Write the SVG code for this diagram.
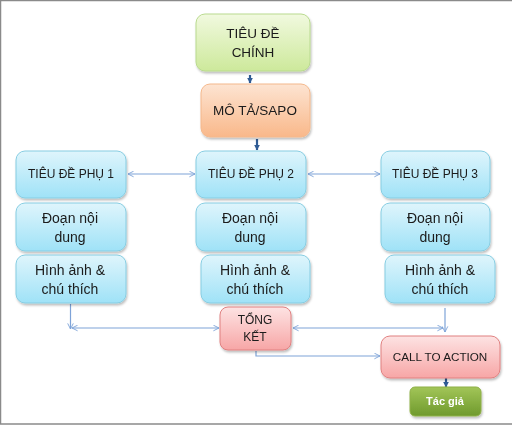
<svg xmlns="http://www.w3.org/2000/svg" width="512" height="426" viewBox="0 0 512 426">
<defs>
<linearGradient id="gBlue" x1="0" y1="0" x2="0" y2="1"><stop offset="0" stop-color="#dff5fc"/><stop offset="1" stop-color="#9fe2f7"/></linearGradient>
<linearGradient id="gGreen" x1="0" y1="0" x2="0" y2="1"><stop offset="0" stop-color="#f1f9df"/><stop offset="1" stop-color="#cde99b"/></linearGradient>
<linearGradient id="gOrange" x1="0" y1="0" x2="0" y2="1"><stop offset="0" stop-color="#fde4d2"/><stop offset="1" stop-color="#f9b88a"/></linearGradient>
<linearGradient id="gRed" x1="0" y1="0" x2="0" y2="1"><stop offset="0" stop-color="#fde3e3"/><stop offset="1" stop-color="#f7a6a6"/></linearGradient>
<linearGradient id="gDark" x1="0" y1="0" x2="0" y2="1"><stop offset="0" stop-color="#a2c558"/><stop offset="1" stop-color="#6f9a2d"/></linearGradient>
<filter id="sh" x="-10%" y="-10%" width="130%" height="140%"><feDropShadow dx="1" dy="2" stdDeviation="1.2" flood-color="#000" flood-opacity="0.25"/></filter>
<marker id="open" viewBox="0 0 10 10" refX="9" refY="5" markerWidth="7" markerHeight="7" orient="auto-start-reverse" markerUnits="userSpaceOnUse"><path d="M1,1 L9,5 L1,9" fill="none" stroke="#7ea3d8" stroke-width="1.3"/></marker>
<marker id="solid" viewBox="0 0 10 10" refX="9" refY="5" markerWidth="6" markerHeight="6" orient="auto" markerUnits="userSpaceOnUse"><path d="M0,0 L10,5 L0,10 z" fill="#2f5b94"/></marker>
</defs>
<style>
.t{font-family:"Liberation Sans",Arial,sans-serif;fill:#1a1a1a;text-anchor:middle}
.s12{font-size:12px}
.s13{font-size:13.5px}
.s14{font-size:14px}
.blue{fill:url(#gBlue);stroke:#86cde2;stroke-width:1}
.box{filter:url(#sh)}
.lc{fill:none;stroke:#7ea3d8;stroke-width:1.2}
.dc{fill:none;stroke:#2f5b94;stroke-width:2.2}
</style>
<rect x="0" y="0" width="512" height="426" fill="#ffffff"/>
<path d="M0.5,424 V0.5 H512" fill="none" stroke="#8a8a8a" stroke-width="1.5"/>
<line x1="0" y1="424" x2="512" y2="424" stroke="#8a8a8a" stroke-width="1.5"/>

<g id="connectors">
<line class="dc" x1="250" y1="75" x2="250" y2="83" marker-end="url(#solid)"/>
<line class="dc" x1="257" y1="139" x2="257" y2="150" marker-end="url(#solid)"/>
<line class="dc" x1="446" y1="378" x2="446" y2="387" marker-end="url(#solid)"/>
<line class="lc" x1="128" y1="174" x2="195" y2="174" marker-start="url(#open)" marker-end="url(#open)"/>
<line class="lc" x1="308" y1="174" x2="380" y2="174" marker-start="url(#open)" marker-end="url(#open)"/>
<line class="lc" x1="70.5" y1="304" x2="70.5" y2="329" marker-end="url(#open)"/>
<line class="lc" x1="72" y1="328" x2="219" y2="328" marker-start="url(#open)" marker-end="url(#open)"/>
<line class="lc" x1="445" y1="308" x2="445" y2="332" marker-end="url(#open)"/>
<line class="lc" x1="293" y1="328" x2="443" y2="328" marker-start="url(#open)" marker-end="url(#open)"/>
<path class="lc" d="M256,351 V356 H380" marker-end="url(#open)"/>
</g>

<g id="main-title" class="box"><rect x="196" y="14" width="114" height="57" rx="9" fill="url(#gGreen)" stroke="#b9da8e"/>
<text class="t s13" x="253" y="38">TIÊU ĐỀ</text><text class="t s13" x="253" y="57">CHÍNH</text></g>

<g id="sapo" class="box"><rect x="201" y="84" width="109" height="53" rx="9" fill="url(#gOrange)" stroke="#f4b88c"/>
<text class="t s13" x="255" y="115">MÔ TẢ/SAPO</text></g>

<g id="sub1" class="box"><rect class="blue" x="16" y="151" width="110" height="47" rx="9"/><text class="t s12" x="71" y="178">TIÊU ĐỀ PHỤ 1</text></g>
<g id="sub2" class="box"><rect class="blue" x="196" y="151" width="110" height="47" rx="9"/><text class="t s12" x="251" y="178">TIÊU ĐỀ PHỤ 2</text></g>
<g id="sub3" class="box"><rect class="blue" x="381" y="151" width="109" height="47" rx="9"/><text class="t s12" x="435" y="178">TIÊU ĐỀ PHỤ 3</text></g>

<g id="content1" class="box"><rect class="blue" x="16" y="203" width="110" height="48" rx="9"/><text class="t s14" x="70" y="223">Đoạn nội</text><text class="t s14" x="70" y="242">dung</text></g>
<g id="content2" class="box"><rect class="blue" x="196" y="203" width="110" height="48" rx="9"/><text class="t s14" x="250" y="223">Đoạn nội</text><text class="t s14" x="250" y="242">dung</text></g>
<g id="content3" class="box"><rect class="blue" x="381" y="203" width="109" height="48" rx="9"/><text class="t s14" x="435" y="223">Đoạn nội</text><text class="t s14" x="435" y="242">dung</text></g>

<g id="image1" class="box"><rect class="blue" x="16" y="255" width="110" height="48" rx="9"/><text class="t s14" x="70" y="275">Hình ảnh &amp;</text><text class="t s14" x="70" y="294">chú thích</text></g>
<g id="image2" class="box"><rect class="blue" x="201" y="255" width="109" height="48" rx="9"/><text class="t s14" x="255" y="275">Hình ảnh &amp;</text><text class="t s14" x="255" y="294">chú thích</text></g>
<g id="image3" class="box"><rect class="blue" x="385" y="255" width="110" height="48" rx="9"/><text class="t s14" x="440" y="275">Hình ảnh &amp;</text><text class="t s14" x="440" y="294">chú thích</text></g>

<g id="summary" class="box"><rect x="220" y="307" width="71" height="43" rx="8" fill="url(#gRed)" stroke="#e08080"/>
<text class="t s12" x="255" y="324">TỔNG</text><text class="t s12" x="255" y="341">KẾT</text></g>

<g id="cta" class="box"><rect x="381" y="336" width="119" height="42" rx="9" fill="url(#gRed)" stroke="#e08080"/>
<text class="t" style="font-size:11.7px" x="440" y="361">CALL TO ACTION</text></g>

<g id="author" class="box"><rect x="410" y="387" width="71" height="29" rx="5" fill="url(#gDark)" stroke="#8fb048"/>
<text class="t" style="font-size:11px;font-weight:bold;fill:#ffffff" x="445" y="405">Tác giả</text></g>
</svg>
